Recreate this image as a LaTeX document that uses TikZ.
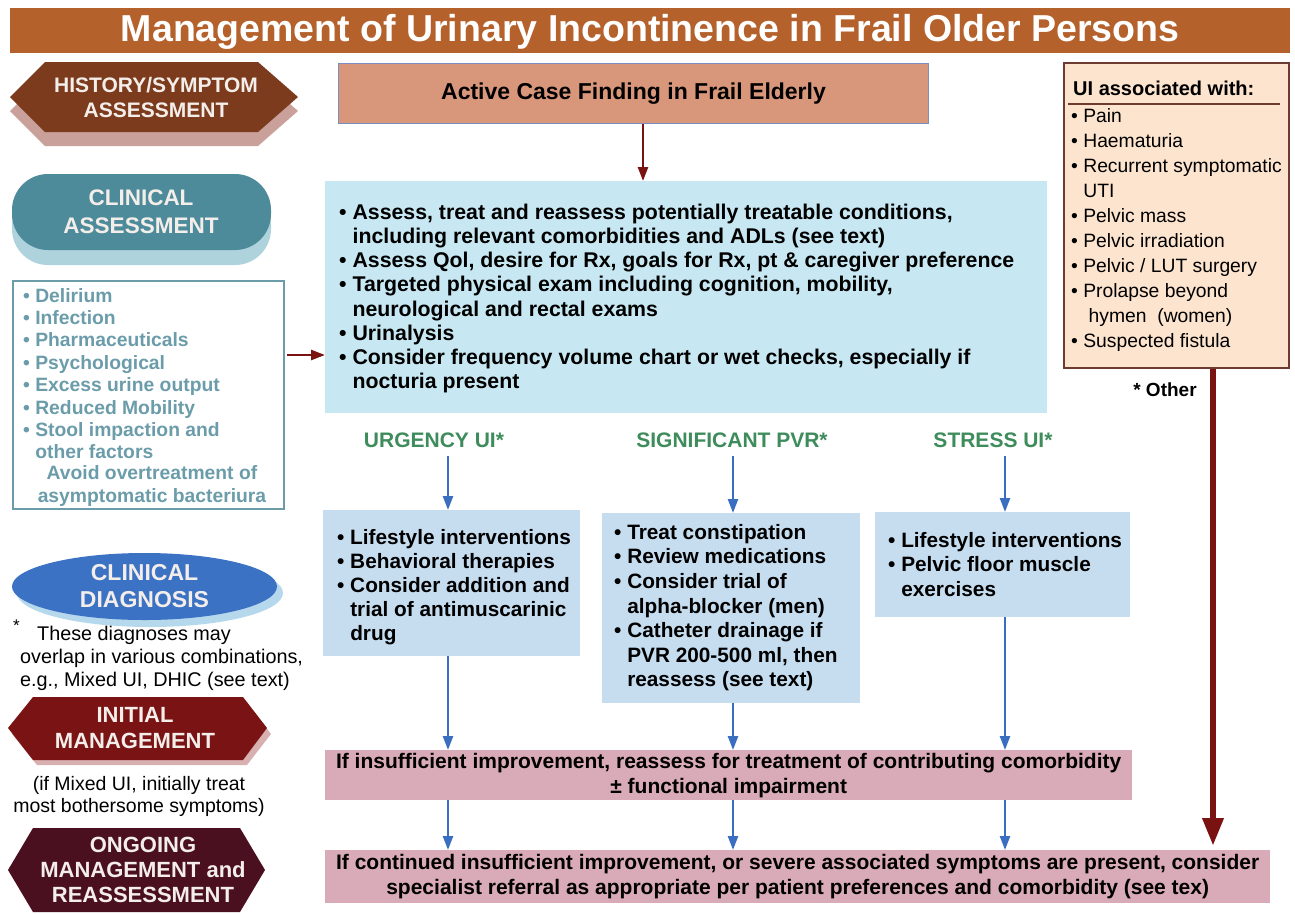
\documentclass[tikz,border=0pt]{standalone}
\usepackage{fontspec}
\setmainfont{Liberation Sans}
\usetikzlibrary{arrows.meta,shapes.geometric,calc}
\definecolor{titlebg}{HTML}{B5612B}
\definecolor{casefill}{HTML}{D8967A}
\definecolor{caseline}{HTML}{7A8FC0}
\definecolor{bigfill}{HTML}{C7E8F2}
\definecolor{boxfill}{HTML}{C6DDF0}
\definecolor{pinkfill}{HTML}{D9AAB7}
\definecolor{rfill}{HTML}{FCE4CE}
\definecolor{rline}{HTML}{6E3B33}
\definecolor{labgreen}{HTML}{3E8C5C}
\definecolor{arrblue}{HTML}{3A6EC0}
\definecolor{arrred}{HTML}{7A1212}
\definecolor{teal}{HTML}{6B9CAA}
\definecolor{histc}{HTML}{7B3B1C}
\definecolor{histsh}{HTML}{C9A09A}
\definecolor{clinc}{HTML}{4D8B9B}
\definecolor{clinsh}{HTML}{AFD3DC}
\definecolor{diagc}{HTML}{3C72C4}
\definecolor{diagsh}{HTML}{B5D8EC}
\definecolor{initc}{HTML}{7A1414}
\definecolor{initsh}{HTML}{D8B0B0}
\definecolor{ongc}{HTML}{4A1020}
\definecolor{shapetxt}{HTML}{F4EEEA}
\newcommand\bl{\textbullet\ }
\newcommand\ind{\hphantom{\textbullet\ }}
\tikzset{
  boxshape/.style={inner sep=0, anchor=north west},
  txt/.style={inner sep=0, anchor=north west, align=left},
  lbl/.style={inner sep=0, font=\fontsize{21}{24}\selectfont\bfseries, text=labgreen},
  shapelbl/.style={inner sep=0, align=center, text=shapetxt},
  bluearr/.style={draw=arrblue, line width=2.4pt, -{Triangle[length=14pt,width=10pt]}},
  redarr/.style={draw=arrred, line width=2.4pt, -{Triangle[length=14pt,width=10pt]}},
  bigarr/.style={draw=arrred, line width=6.5pt, -{Triangle[length=28pt,width=20pt]}},
}
\begin{document}
\begin{tikzpicture}[x=1pt,y=-1pt]
\useasboundingbox (0,0) rectangle (1295,913);
\fill[white] (0,0) rectangle (1295,913);
% title
\node[boxshape, fill=titlebg, minimum width=1280pt, minimum height=45pt] (title) at (10,8) {};
\node[inner sep=0, text=white, font=\fontsize{37.5}{40}\selectfont\bfseries] (titletxt) at ($(title.center)+(0,1)$) {Management of Urinary Incontinence in Frail Older Persons};
% left column shapes
\fill[histsh] (10,111) -- (45,76) -- (258,76) -- (298,111) -- (258,146) -- (45,146) -- cycle;
\fill[histc] (10,97) -- (45,62) -- (258,62) -- (298,97) -- (258,132) -- (45,132) -- cycle;
\node[shapelbl, font=\fontsize{21}{25}\selectfont\bfseries] (hist) at (156,97) {HISTORY/SYMPTOM\\ASSESSMENT};
\fill[clinsh, rounded corners=36pt] (12,189) rectangle (271,265);
\fill[clinc, rounded corners=36pt] (12,174) rectangle (271,250);
\node[shapelbl, font=\fontsize{22.5}{28}\selectfont\bfseries] (clin) at (141,212) {CLINICAL\\ASSESSMENT};
% left box
\node[boxshape, draw=teal, line width=1.6pt, minimum width=271pt, minimum height=228pt] (lbox) at (12,280) {};
\node[txt, text=teal, font=\fontsize{19.3}{22.4}\selectfont\bfseries] (ltxt) at (23,288) {\bl Delirium\\\bl Infection\\\bl Pharmaceuticals\\\bl Psychological\\\bl Excess urine output\\\bl Reduced Mobility\\\bl Stool impaction and\\\ind other factors};
\node[inner sep=0, align=center, text=teal, font=\fontsize{19.3}{22.4}\selectfont\bfseries] (avoid) at (152,486) {Avoid overtreatment of\\asymptomatic bacteriura};
% diagnosis ellipse
\fill[diagsh] (150,593) ellipse (133pt and 34pt);
\node[ellipse, fill=diagc, minimum width=265pt, minimum height=67pt, inner sep=0] (diag) at (144.5,586.5) {};
\node[shapelbl, font=\fontsize{23}{27}\selectfont\bfseries] (diagtxt) at (diag.center) {CLINICAL\\DIAGNOSIS};
\node[inner sep=0, anchor=west, font=\fontsize{17}{20}\selectfont] (star) at (13,626) {*};
\node[txt, font=\fontsize{19.8}{23}\selectfont] (foot) at (20,626) {\hspace*{17pt}These diagnoses may\\overlap in various combinations,\\e.g., Mixed UI, DHIC (see text)};
% initial management
\fill[initsh] (12,734) -- (37,703) -- (247,703) -- (271,734) -- (247,765) -- (37,765) -- cycle;
\fill[initc] (8,728) -- (33,697) -- (243,697) -- (267,728) -- (243,760) -- (33,760) -- cycle;
\node[shapelbl, font=\fontsize{22}{26}\selectfont\bfseries] (init) at (135,728) {INITIAL\\MANAGEMENT};
\node[inner sep=0, align=center, font=\fontsize{19.5}{22}\selectfont] (mixed) at (139,796) {(if Mixed UI, initially treat\\most bothersome symptoms)};
% ongoing
\fill[ongc] (8,870) -- (33,828) -- (240,828) -- (265,870) -- (240,912) -- (33,912) -- cycle;
\node[shapelbl, font=\fontsize{22}{25}\selectfont\bfseries] (ong) at (143,870) {ONGOING\\MANAGEMENT and\\REASSESSMENT};
% active case
\node[boxshape, fill=casefill, draw=caseline, line width=1pt, minimum width=590pt, minimum height=60pt] (case) at (338,63) {};
\node[inner sep=0, font=\fontsize{23}{26}\selectfont\bfseries] (casetxt) at (case.center) {Active Case Finding in Frail Elderly};
% big box
\node[boxshape, fill=bigfill, minimum width=722pt, minimum height=232pt] (big) at (325,181) {};
\node[txt, font=\fontsize{21.3}{24.1}\selectfont\bfseries] (bigtxt) at (339,204) {\bl Assess, treat and reassess potentially treatable conditions,\\\ind including relevant comorbidities and ADLs (see text)\\\bl Assess Qol, desire for Rx, goals for Rx, pt \& caregiver preference\\\bl Targeted physical exam including cognition, mobility,\\\ind neurological and rectal exams\\\bl Urinalysis\\\bl Consider frequency volume chart or wet checks, especially if\\\ind nocturia present};
\coordinate (ax0) at (643,0);
\draw[redarr] (case.south -| ax0) -- (ax0 |- big.north);
\coordinate (la) at (287,355);
\draw[redarr] (la) -- (la -| big.west);
% right box
\node[boxshape, fill=rfill, draw=rline, line width=1.6pt, minimum width=225pt, minimum height=305pt] (rbox) at (1063,62) {};
\node[inner sep=0, anchor=west, font=\fontsize{20}{22}\selectfont\bfseries] (rhead) at (1073,88) {UI associated with:};
\coordinate (rl1) at (1068,104);
\coordinate (rl2) at (1280,104);
\draw[rline, line width=1.2pt] (rl1) -- (rl2);
\node[txt, font=\fontsize{19.3}{25}\selectfont] (rtxt) at (1071,108) {\bl Pain\\\bl Haematuria\\\bl Recurrent symptomatic\\\ind UTI\\\bl Pelvic mass\\\bl Pelvic irradiation\\\bl Pelvic / LUT surgery\\\bl Prolapse beyond\\\ind\ hymen\ \ (women)\\\bl Suspected fistula};
\node[inner sep=0, font=\fontsize{19}{22}\selectfont\bfseries] (other) at (1165,390) {* Other};
% labels
\node[lbl] (lab1) at (434,440) {URGENCY UI*};
\node[lbl] (lab2) at (732,440) {SIGNIFICANT PVR*};
\node[lbl] (lab3) at (993,440) {STRESS UI*};
% boxes
\node[boxshape, fill=boxfill, minimum width=257pt, minimum height=146pt] (b1) at (323,510) {};
\node[boxshape, fill=boxfill, minimum width=258pt, minimum height=190pt] (b2) at (602,513) {};
\node[boxshape, fill=boxfill, minimum width=255pt, minimum height=105pt] (b3) at (875,512) {};
\node[txt, font=\fontsize{20.8}{24}\selectfont\bfseries] (b1txt) at (337,529) {\bl Lifestyle interventions\\\bl Behavioral therapies\\\bl Consider addition and\\\ind trial of antimuscarinic\\\ind drug};
\node[txt, font=\fontsize{20.8}{24.6}\selectfont\bfseries] (b2txt) at (614,524) {\bl Treat constipation\\\bl Review medications\\\bl Consider trial of\\\ind alpha-blocker (men)\\\bl Catheter drainage if\\\ind PVR 200-500 ml, then\\\ind reassess (see text)};
\node[txt, font=\fontsize{20.8}{24.5}\selectfont\bfseries] (b3txt) at (888,532) {\bl Lifestyle interventions\\\bl Pelvic floor muscle\\\ind exercises};
% pink boxes
\node[boxshape, fill=pinkfill, minimum width=807pt, minimum height=50pt] (p1) at (325,750) {};
\node[inner sep=0, align=center, font=\fontsize{21}{25}\selectfont\bfseries] (p1txt) at (p1.center) {If insufficient improvement, reassess for treatment of contributing comorbidity\\\textpm{} functional impairment};
\node[boxshape, fill=pinkfill, minimum width=945pt, minimum height=53pt] (p2) at (325,850) {};
\node[inner sep=0, align=center, font=\fontsize{21}{25}\selectfont\bfseries] (p2txt) at (p2.center) {If continued insufficient improvement, or severe associated symptoms are present, consider\\specialist referral as appropriate per patient preferences and comorbidity (see tex)};
% arrows
\coordinate (ax1) at (448,0);
\coordinate (ax2) at (733,0);
\coordinate (ax3) at (1005,0);
\coordinate (ax4) at (1213,0);
\draw[bluearr] (lab1.south -| ax1) ++(0,8) -- (ax1 |- b1.north);
\draw[bluearr] (lab2.south -| ax2) ++(0,8) -- (ax2 |- b2.north);
\draw[bluearr] (lab3.south -| ax3) ++(0,8) -- (ax3 |- b3.north);
\draw[bluearr] (ax1 |- b1.south) -- (ax1 |- p1.north);
\draw[bluearr] (ax2 |- b2.south) -- (ax2 |- p1.north);
\draw[bluearr] (ax3 |- b3.south) -- (ax3 |- p1.north);
\draw[bluearr] (ax1 |- p1.south) -- (ax1 |- p2.north);
\draw[bluearr] (ax2 |- p1.south) -- (ax2 |- p2.north);
\draw[bluearr] (ax3 |- p1.south) -- (ax3 |- p2.north);
\draw[bigarr] (ax4 |- rbox.south) -- ($(ax4 |- p2.north)+(0,-4)$);
\end{tikzpicture}
\end{document}
